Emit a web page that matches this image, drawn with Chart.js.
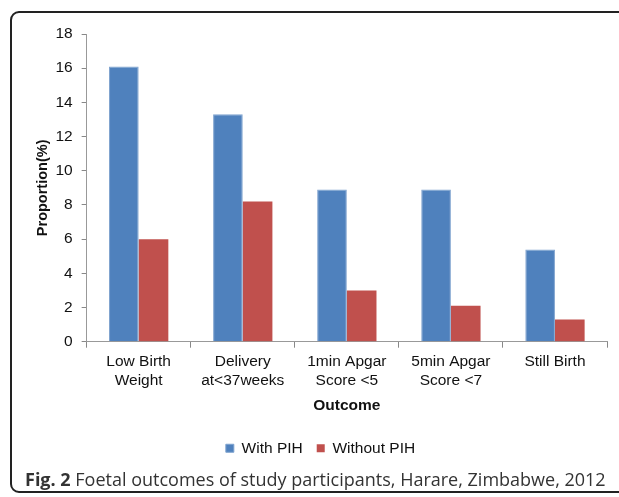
<!DOCTYPE html>
<html>
<head>
<meta charset="utf-8">
<script src="https://cdn.jsdelivr.net/npm/chart.js@4"></script>
<style>
  html, body { margin: 0; padding: 0; background: #fff; }
  body { width: 619px; height: 497px; position: relative; overflow: hidden; }
  .frame {
    position: absolute; left: 10px; top: 11px; width: 640px; height: 482px;
    border: 2px solid #222; border-radius: 9px; box-sizing: border-box;
  }
  .wrap { position: absolute; left: 0; top: 0; width: 619px; height: 470px; }
  .caption {
    position: absolute; left: 25px; top: 467px;
    font-family: "Open Sans", sans-serif; font-size: 18px; color: #333; white-space: nowrap;
  }
  .caption b { font-weight: 700; }
</style>
</head>
<body>
<div class="frame"></div>
<div class="wrap"><canvas id="outcomeChart"></canvas></div>
<div class="caption"><b>Fig. 2</b> Foetal outcomes of study participants, Harare, Zimbabwe, 2012</div>
<script>
// values
const outcomes = [
  ["Low Birth", "Weight"],
  ["Delivery", "at<37weeks"],
  ["1min Apgar", "Score <5"],
  ["5min Apgar", "Score <7"],
  ["Still Birth"]
];
const withPIH = [16.1, 13.3, 8.9, 8.9, 5.4];
const withoutPIH = [6.0, 8.2, 3.0, 2.1, 1.3];
const yTicks = [0, 2, 4, 6, 8, 10, 12, 14, 16, 18];

const axisFont = { family: "'Liberation Sans', Arial, sans-serif", size: 15.5 };

const ctx = document.getElementById('outcomeChart').getContext('2d');
window.outcomeChart = new Chart(ctx, {
    type: 'bar',
    data: {
        labels: outcomes,
        datasets: [
            {
                label: 'With PIH',
                data: withPIH,
                backgroundColor: '#4F81BD',
                borderColor: '#7FA3CF',
                borderWidth: 1
            },
            {
                label: 'Without PIH',
                data: withoutPIH,
                backgroundColor: '#C0504D',
                borderColor: '#C0504D',
                borderWidth: 0
            }
        ]
    },
    options: {
        responsive: true,
        maintainAspectRatio: false,
        animation: false,
        layout: { padding: { left: 34, right: 12, top: 34, bottom: 4 } },
        datasets: { bar: { categoryPercentage: 0.57, barPercentage: 1.0 } },
        scales: {
            x: {
                grid: { display: true, drawOnChartArea: false, color: '#888', tickLength: 6 },
                border: { color: '#999' },
                ticks: { color: '#111', font: axisFont, maxRotation: 0, padding: 5 },
                title: {
                    display: true, text: 'Outcome', color: '#111',
                    font: { family: axisFont.family, size: 15.5, weight: 'bold' },
                    padding: { top: 2, bottom: 11 }
                }
            },
            y: {
                min: 0, max: 18,
                afterBuildTicks: (scale) => { scale.ticks = yTicks.map(v => ({ value: v })); },
                grid: { display: true, drawOnChartArea: false, color: '#888', tickLength: 5 },
                border: { color: '#999' },
                ticks: { color: '#111', font: axisFont, padding: 9 },
                title: {
                    display: true, text: 'Proportion(%)', color: '#111',
                    font: { family: axisFont.family, size: 14.5, weight: 'bold' },
                    padding: { top: 0, bottom: -5 }
                }
            }
        },
        plugins: {
            legend: {
                position: 'bottom',
                labels: {
                    color: '#111', font: axisFont,
                    boxWidth: 8, boxHeight: 8, padding: 14
                }
            },
            tooltip: { enabled: false }
        }
    }
});
</script>
</body>
</html>
